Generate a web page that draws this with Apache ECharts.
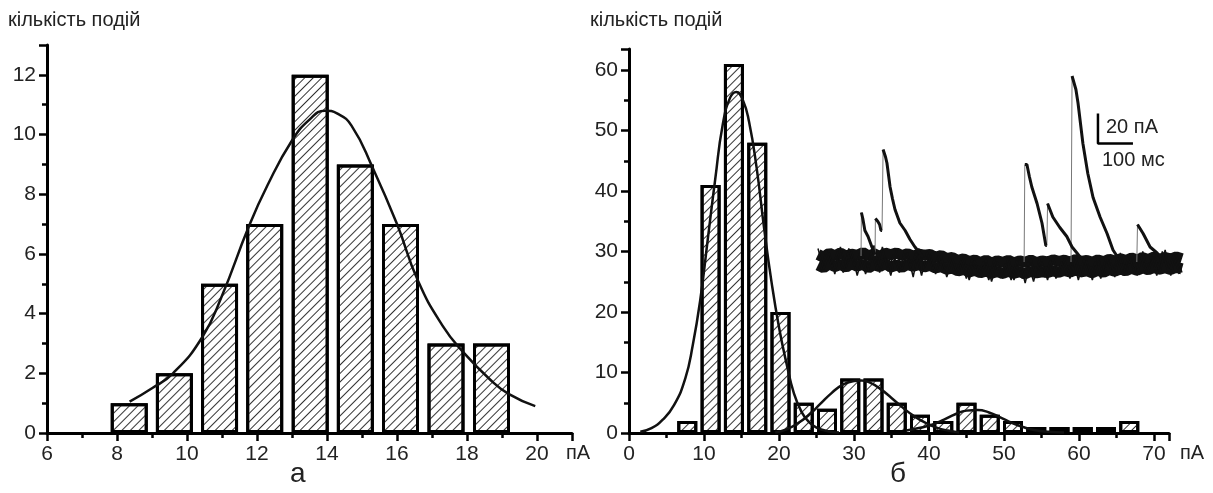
<!DOCTYPE html>
<html>
<head>
<meta charset="utf-8">
<title>histograms</title>
<style>
  html, body { margin: 0; padding: 0; background: #fff; }
  #chart { width: 1213px; height: 493px; }
</style>
</head>
<body>
<div id="chart"></div>
<script src="https://cdn.jsdelivr.net/npm/echarts@6/dist/echarts.min.js"></script>
<script>
// --- panel a: amplitude histogram (bin centre, count) ---
var binsA = [8.35, 9.64, 10.93, 12.22, 13.52, 14.81, 16.1, 17.4, 18.7];
var countsA = [1, 2, 5, 7, 12, 9, 7, 3, 3];
// fitted curve
var fitA = [[8.36, 1.05], [9.0, 1.5], [9.6, 2.0], [10.43, 3.2], [11.0, 4.6], [11.76, 6.9],
  [12.3, 8.3], [13.0, 9.8], [13.5, 10.5], [13.94, 10.8], [14.3, 10.7], [14.7, 10.3],
  [15.3, 8.9], [16.0, 7.0], [16.6, 5.1], [17.3, 3.6], [17.9, 2.7], [18.65, 1.8],
  [19.2, 1.3], [19.95, 0.9]];

// --- panel б ---
var binsB = [7.77, 10.88, 13.99, 17.1, 20.2, 23.3, 26.4, 29.5, 32.6, 35.7,
  38.8, 41.9, 45.0, 48.1, 51.2, 54.3, 57.4, 60.5, 63.6, 66.7];
var countsB = [2, 41, 61, 48, 20, 5, 4, 9, 9, 5, 3, 2, 5, 3, 2, 1, 1, 1, 1, 2];
var fitB1 = [[1.5, 0.2], [3, 0.8], [4.5, 2.2], [6, 4.6], [7.5, 9], [8.5, 14.5], [9.5, 22],
  [10.5, 32], [11.5, 42], [12.5, 51], [13.5, 55.5], [14.3, 56.4], [15.2, 55], [16, 51.5],
  [17, 44], [18, 34], [19, 25], [20, 17.5], [21, 11.5], [22, 6.5], [23, 3.5], [24, 1.8],
  [25, 0.9], [26.5, 0.3], [28, 0.1]];
var fitB2 = [[19.5, 0.1], [21, 0.6], [22.5, 1.6], [24, 3], [25.5, 4.8], [27, 6.6], [28.5, 8],
  [30, 8.6], [31, 8.7], [32, 8.4], [33.5, 7.3], [35, 5.8], [36.5, 4.2], [38, 2.8],
  [39.5, 1.7], [41, 0.9], [42.5, 0.4], [44, 0.1]];
var fitB3 = [[37, 0.4], [39, 0.9], [40.5, 1.4], [42, 2.2], [43.5, 3.1], [45, 3.7], [46.5, 3.8],
  [48, 3.4], [49.5, 2.6], [51, 1.7], [52.5, 1.0], [54, 0.5], [56, 0.2], [58, 0.1]];

// --- inset: current traces (ms, pA) ---
var traceTime = [0, 16, 32, 48, 64, 80, 96, 112, 128, 144, 160, 176, 192, 208, 224, 240, 256,
  272, 288, 304, 320, 336, 352, 368, 384, 400, 416, 432, 448, 464, 480, 496, 512, 528, 544,
  560, 576, 592, 608, 624, 640, 656, 672, 688, 704, 720, 736, 752, 768, 784, 800, 816, 832,
  848, 864, 880, 896, 912, 928, 944, 960, 976, 992, 1008, 1024, 1040];
var traceTime2 = [8, 24, 40, 56, 72, 88, 104, 120, 136, 152, 168, 184, 200, 216, 232, 248, 264,
  280, 296, 312, 328, 344, 360, 376, 392, 408, 424, 440, 456, 472, 488, 504, 520, 536, 552,
  568, 584, 600, 616, 632, 648, 664, 680, 696, 712, 728, 744, 760, 776, 792, 808, 824, 840,
  856, 872, 888, 904, 920, 936, 952, 968, 984, 1000, 1016, 1032];
var traceUpper = [5.0, 3.2, 5.8, 4.1, 6.0, 3.9, 5.2, 4.4, 6.3, 4.0, 5.5, 3.6, 5.9, 4.8, 6.1, 4.2,
  5.6, 3.8, 5.3, 4.6, 5.0, 3.1, 4.4, 2.2, 3.0, 1.0, 2.1, 0.2, 1.4, -0.4, 1.2, -0.8, 0.9, -0.3,
  1.1, -0.6, 0.8, -0.2, 1.3, -0.5, 0.7, 0.0, 1.5, 0.3, 1.2, -0.1, 1.6, 0.4, 1.0, -0.2, 1.4,
  0.2, 1.8, 0.6, 2.2, 1.0, 2.6, 1.4, 2.9, 1.6, 3.3, 1.8, 3.0, 1.9, 3.4, 2.2];
var traceLower = [-2.0, -3.8, -1.2, -3.0, -1.6, -3.5, -1.0, -2.8, -1.4, -3.9, -1.8, -3.1, -1.1,
  -3.4, -2.0, -3.6, -1.5, -2.9, -1.7, -3.3, -2.2, -4.0, -3.1, -4.8, -4.0, -5.9, -4.9, -6.6,
  -5.5, -7.2, -6.0, -7.4, -6.3, -7.7, -6.1, -7.5, -6.4, -7.9, -6.2, -7.3, -6.5, -7.0, -5.8,
  -6.9, -5.6, -6.7, -5.2, -6.6, -5.9, -7.1, -5.5, -6.8, -5.0, -6.2, -4.6, -5.8, -4.2, -5.5,
  -3.9, -5.1, -3.6, -4.8, -3.8, -5.0, -3.5, -4.6];
var spikesA = [9, -5, 6, -8, 10, -4, 7, -9, 5, -6, 11, -7, 4, -9, 8, -5, 6, -10, 9, -4, 5, -8,
  4, -10, 2, -9, 3, -12, 1, -10, 2, -13, 0, -11, 3, -12, 1, -14, 2, -10, 0, -12, 3, -9, 2, -11,
  4, -10, 1, -12, 3, -9, 4, -10, 6, -8, 5, -9, 7, -7, 6, -8, 8, -9, 5, -7];
var spikesB = [-6, 8, -4, 7, -7, 9, -3, 6, -8, 7, -5, 10, -6, 5, -7, 8, -4, 6, -9, 7, -5, 4,
  -7, 3, -8, 1, -11, 2, -9, 0, -12, 2, -10, -1, -12, 1, -11, 0, -13, 2, -10, 1, -11, 0, -9, 3,
  -12, 2, -10, 0, -11, 4, -8, 3, -9, 5, -7, 6, -8, 4, -9, 7, -6, 5, -8];
var eventRises = [
  [[123, 4], [124, 33]], [[163, 4], [164, 29]], [[183, 21], [186, 75]], [[589, 0], [591, 65]],
  [[654, 11], [656, 39]], [[723, 0], [726, 124]], [[911, 0], [913, 25]]
];
var eventDecays = [
  [[124, 33], [128, 29], [134, 21], [143, 17], [154, 10], [163, 5]],
  [[164, 29], [171, 27], [176, 25], [180, 21], [183, 21]],
  [[186, 75], [189, 75], [193, 70], [197, 66], [206, 50], [213, 42], [220, 35], [234, 26],
    [249, 21], [263, 15], [277, 10], [291, 6], [300, 3]],
  [[591, 65], [597, 65], [604, 57], [611, 50], [626, 39], [640, 26], [651, 11], [654, 11]],
  [[656, 39], [660, 38], [671, 30], [691, 23], [711, 17], [726, 10], [740, 6], [750, 3]],
  [[726, 124], [731, 124], [737, 115], [743, 106], [757, 79], [771, 59], [786, 43], [806, 30],
    [826, 19], [843, 8], [857, 3]],
  [[913, 25], [917, 25], [929, 19], [949, 10], [969, 6], [980, 3]]
];
var scaleBar = [[800, 99], [800, 79], [900, 79]];

var FONT = "'Liberation Sans', Arial, sans-serif";
var NARROW = "'Liberation Sans Narrow', 'Liberation Sans', Arial, sans-serif";

function zip(xs, ys) {
  var out = [];
  for (var i = 0; i < xs.length; i++) out.push([xs[i], ys[i]]);
  return out;
}

var hatch = {
  symbol: 'rect',
  symbolSize: 1,
  color: '#333',
  dashArrayX: [1, 0],
  dashArrayY: [1, 5],
  rotation: -Math.PI / 4
};

function majorAxis(grid, pos, min, max, interval, hideAbove) {
  return {
    type: 'value', gridIndex: grid, position: pos, min: min, max: max, interval: interval,
    axisLine: { show: true, onZero: false, lineStyle: { color: '#000', width: 3 } },
    axisTick: { show: true, length: 8, lineStyle: { color: '#000', width: 2.5 } },
    axisLabel: {
      color: '#222', fontSize: 21, fontFamily: NARROW, margin: 11,
      formatter: function (v) { return v > hideAbove ? '' : String(v); }
    },
    splitLine: { show: false }
  };
}
function minorAxis(grid, pos, min, max, interval) {
  return {
    type: 'value', gridIndex: grid, position: pos, min: min, max: max, interval: interval,
    axisLine: { show: false, onZero: false },
    axisTick: { show: true, length: 5, lineStyle: { color: '#000', width: 2.5 } },
    axisLabel: { show: false },
    splitLine: { show: false }
  };
}

var series = [];
series.push({
  type: 'bar', xAxisIndex: 0, yAxisIndex: 0, barWidth: 37, barCategoryGap: 0,
  data: zip(binsA, countsA),
  itemStyle: { color: '#fff', borderColor: '#000', borderWidth: 3, decal: hatch }
});
series.push({
  type: 'line', xAxisIndex: 0, yAxisIndex: 0, data: fitA, smooth: true, symbol: 'none',
  lineStyle: { color: '#111', width: 2.5 }, z: 5
});
series.push({
  type: 'bar', xAxisIndex: 2, yAxisIndex: 2, barWidth: 20, barCategoryGap: 0,
  data: zip(binsB, countsB),
  itemStyle: { color: '#fff', borderColor: '#000', borderWidth: 3, decal: hatch }
});
[fitB1, fitB2, fitB3].forEach(function (d) {
  series.push({
    type: 'line', xAxisIndex: 2, yAxisIndex: 2, data: d, smooth: true, symbol: 'none',
    lineStyle: { color: '#111', width: 2.5 }, z: 5
  });
});
// inset: overlaid noisy baselines
[[traceTime, traceUpper, 11], [traceTime, traceLower, 11],
 [traceTime, spikesA, 1.5], [traceTime2, spikesB, 1.5]].forEach(function (t) {
  series.push({
    type: 'line', xAxisIndex: 4, yAxisIndex: 4, data: zip(t[0], t[1]), symbol: 'none',
    lineStyle: { color: '#111', width: t[2] }, silent: true
  });
});
eventRises.forEach(function (d) {
  series.push({
    type: 'line', xAxisIndex: 4, yAxisIndex: 4, data: d, symbol: 'none',
    lineStyle: { color: '#777', width: 1 }
  });
});
eventDecays.forEach(function (d) {
  series.push({
    type: 'line', xAxisIndex: 4, yAxisIndex: 4, data: d, symbol: 'none',
    lineStyle: { color: '#111', width: 3 }
  });
});
series.push({
  type: 'line', xAxisIndex: 4, yAxisIndex: 4, data: scaleBar, symbol: 'none',
  lineStyle: { color: '#000', width: 2.5 }
});

var myChart = echarts.init(document.getElementById('chart'));
var option = {
  animation: false,
  grid: [
    { left: 47, top: 45, width: 525, height: 388 },
    { left: 629, top: 49, width: 540, height: 384 },
    { left: 818, top: 67, width: 365, height: 225 }
  ],
  xAxis: [
    majorAxis(0, 'bottom', 6, 21, 2, 20),
    minorAxis(0, 'bottom', 6, 21, 1),
    majorAxis(1, 'bottom', 0, 72, 10, 70),
    minorAxis(1, 'bottom', 0, 72, 5),
    { type: 'value', gridIndex: 2, min: 0, max: 1043, show: false }
  ],
  yAxis: [
    majorAxis(0, 'left', 0, 13, 2, 12),
    minorAxis(0, 'left', 0, 13, 1),
    majorAxis(1, 'left', 0, 63.5, 10, 60),
    minorAxis(1, 'left', 0, 63.5, 5),
    { type: 'value', gridIndex: 2, min: -20, max: 130, show: false }
  ],
  graphic: [
    { type: 'text', left: 8, top: 10, style: { text: 'кількість подій', fontSize: 20, fontFamily: FONT, fill: '#222' } },
    { type: 'text', left: 590, top: 10, style: { text: 'кількість подій', fontSize: 20, fontFamily: FONT, fill: '#222' } },
    { type: 'text', left: 566, top: 443, style: { text: 'пА', fontSize: 20, fontFamily: NARROW, fill: '#222' } },
    { type: 'text', left: 1180, top: 443, style: { text: 'пА', fontSize: 20, fontFamily: NARROW, fill: '#222' } },
    { type: 'text', left: 290, top: 460, style: { text: 'а', fontSize: 28, fontFamily: FONT, fill: '#222' } },
    { type: 'text', left: 890, top: 460, style: { text: 'б', fontSize: 28, fontFamily: FONT, fill: '#222' } },
    { type: 'text', left: 1106, top: 117, style: { text: '20 пА', fontSize: 20, fontFamily: FONT, fill: '#222' } },
    { type: 'text', left: 1102, top: 150, style: { text: '100 мс', fontSize: 20, fontFamily: FONT, fill: '#222' } }
  ],
  series: series
};
myChart.setOption(option);
</script>
</body>
</html>
